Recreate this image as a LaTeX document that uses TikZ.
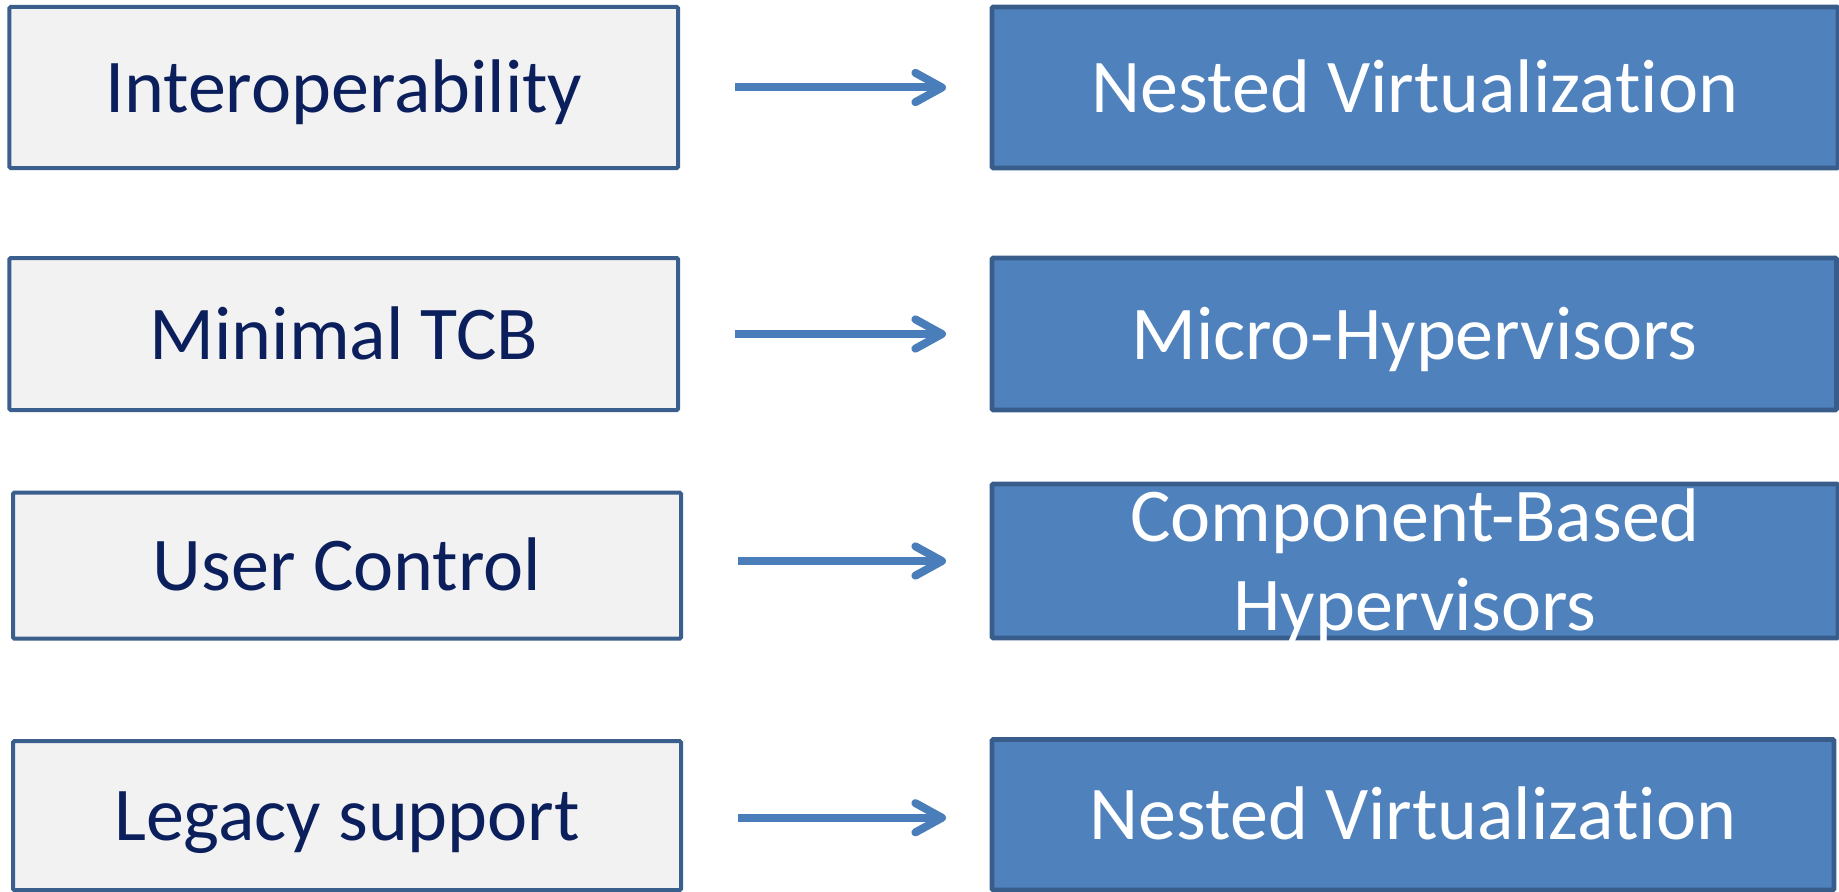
\documentclass[tikz,border=0pt]{standalone}
\usepackage{fontspec}
\setmainfont{Carlito}[Ligatures=NoCommon]
\usetikzlibrary{arrows.meta}
\definecolor{lfill}{HTML}{F2F2F2}
\definecolor{lborder}{HTML}{3A5F8C}
\definecolor{rfill}{HTML}{4F81BD}
\definecolor{rborder}{HTML}{385D8A}
\definecolor{navy}{HTML}{0A1F5C}
\definecolor{arrowblue}{HTML}{4A7EBB}
\tikzset{
  boxbase/.style={rectangle, inner sep=0pt, outer sep=0pt, rounded corners=1pt,
    font=\fontsize{57pt}{66.75pt}\selectfont, text height=37.5pt, text depth=0pt},
  leftbox/.style={boxbase, fill=lfill, draw=lborder, line width=3pt, text=navy},
  rightbox/.style={boxbase, fill=rfill, draw=rborder, line width=3.6pt, text=white},
  conn/.style={draw=arrowblue, line width=6pt,
    -{Straight Barb[length=20pt, width=22pt, round]},
    shorten <=43pt, shorten >=34.5pt}
}
\begin{document}
\begin{tikzpicture}[x=0.75pt, y=-0.75pt]
\useasboundingbox (0,0) rectangle (1839,892);
\node[leftbox, minimum width=501.4pt, minimum height=120.75pt] (L1) at (343.75,87.5) {Interoperability};
\node[rightbox, minimum width=634.5pt, minimum height=120.75pt] (R1) at (1415,87.5) {Nested Virtualization};
\node[leftbox, minimum width=501.4pt, minimum height=114pt] (L2) at (343.75,334) {Minimal TCB};
\node[rightbox, minimum width=633.4pt, minimum height=114pt] (R2) at (1414.25,334) {Micro-Hypervisors};
\node[leftbox, minimum width=501pt, minimum height=109.5pt] (L3) at (347,565.5) {User Control};
\node[rightbox, minimum width=634.5pt, minimum height=115.5pt, align=center, text height=104.5pt, text depth=0pt] (R3) at (1415,561) {Component-Based\\Hypervisors};
\node[leftbox, minimum width=501pt, minimum height=111.75pt] (L4) at (347,815.5) {Legacy support};
\node[rightbox, minimum width=631.5pt, minimum height=112.9pt] (R4) at (1413,814.75) {Nested Virtualization};
\draw[conn] (R1.west -| L1.east) -- (R1.west);
\draw[conn] (R2.west -| L2.east) -- (R2.west);
\draw[conn] (R3.west -| L3.east) -- (R3.west);
\draw[conn] ([yshift=-2.25pt]R4.west -| L4.east) -- ([yshift=-2.25pt]R4.west);
\end{tikzpicture}
\end{document}
